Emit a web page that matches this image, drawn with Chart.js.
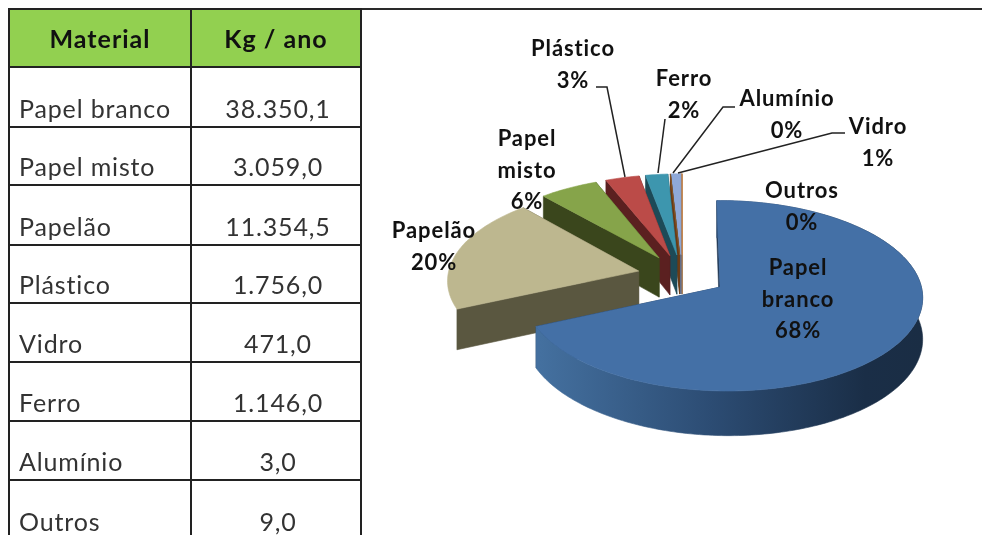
<!DOCTYPE html>
<html>
<head>
<meta charset="utf-8">
<script src="https://cdn.jsdelivr.net/npm/chart.js@4"></script>
<style>
html, body { margin: 0; padding: 0; background: #fff; overflow: hidden; width: 982px; height: 535px; }
#page { position: relative; width: 982px; height: 535px; overflow: hidden; filter: blur(0.6px); }
#chart { position: absolute; left: 0; top: 0; }
#topline { position: absolute; left: 9px; right: 0; top: 8px; height: 2px; background: #2a2a2a; }
#grid {
    position: absolute; left: 8px; top: 8px;
    display: grid;
    grid-template-columns: 182px 170px;
    grid-template-rows: 58px 60px 58px 60px 58px 59px 59px 59px 60px;
    border-left: 2px solid #222; border-top: 2px solid #222;
    font-family: Lato, sans-serif; font-size: 25px; letter-spacing: 0.85px; color: #333;
}
#grid div {
    box-sizing: border-box;
    border-right: 2px solid #222; border-bottom: 2px solid #222;
    display: flex; align-items: flex-end; padding-bottom: 3px;
    white-space: nowrap;
}
#grid .name { padding-left: 9px; }
#grid .val { justify-content: center; padding-left: 4px; }
#grid .head { background: #92d050; color: #111; font-weight: bold; letter-spacing: 1px; justify-content: center; align-items: center; padding-bottom: 0; }
</style>
</head>
<body>
<div id="page">
    <canvas id="chart" width="982" height="535"></canvas>
    <div id="topline"></div>
    <div id="grid"></div>
</div>
<script>
// table, in the order of the picture
const tableHeader = ['Material', 'Kg / ano'];
const tableMaterials = ['Papel branco', 'Papel misto', 'Papelão', 'Plástico', 'Vidro', 'Ferro', 'Alumínio', 'Outros'];
const tableKg = ['38.350,1', '3.059,0', '11.354,5', '1.756,0', '471,0', '1.146,0', '3,0', '9,0'];

// pie, clockwise from 12 o'clock
const pieNames = ['Papel branco', 'Papelão', 'Papel misto', 'Plástico', 'Ferro', 'Alumínio', 'Vidro', 'Outros'];
const pieKg = [38350.1, 11354.5, 3059.0, 1756.0, 1146.0, 3.0, 471.0, 9.0];
const piePct = [68, 20, 6, 3, 2, 0, 1, 0];

const topColors = ['#4470a6', '#bdb78f', '#86a44a', '#bb4b48', '#3d96ae', '#8a5a2a', '#8fa9d8', '#e08a3c'];
const sideColors = ['#1f3552', '#5a5740', '#3a461c', '#5b2020', '#1d4a57', '#6b3a14', '#5d74a0', '#8a5420'];

// label lines and where they sit
const labelLines = [
    ['Papel', 'branco'], ['Papelão'], ['Papel', 'misto'], ['Plástico'],
    ['Ferro'], ['Alumínio'], ['Vidro'], ['Outros']
];
const labelAt = [[798, 268], [434, 231], [527, 139], [573, 49], [684, 79], [787, 99], [878, 127], [802, 191]];
const lineGap = 31.5;
const leaders = [
    [[596, 87], [607, 87], [625, 177]],
    [[665, 119], [658, 173]],
    [[735, 107], [723, 107], [673, 173]],
    [[845, 133], [832, 133], [678, 173]]
];

// perspective of the pie
const CX = 682, CY = 275.5, AX = 195, AY = 92, PERSP = 0.09, PERSP_X = 0.015, DEPTH = 40, EXPLODE = 0.229;

function project(x, y, h) {
    const w = 1 - PERSP * y - PERSP_X * x;
    return [CX + AX * x / w, CY + AY * y / w + h * DEPTH / w];
}

function fillPoly(ctx, pts, color) {
    ctx.beginPath();
    pts.forEach((p, i) => i ? ctx.lineTo(p[0], p[1]) : ctx.moveTo(p[0], p[1]));
    ctx.closePath();
    ctx.fillStyle = color;
    ctx.fill();
    ctx.strokeStyle = color;
    ctx.lineWidth = 0.6;
    ctx.stroke();
}

const pie3d = {
    id: 'pie3d',
    beforeDatasetsDraw(chart) {
        const ctx = chart.ctx;
        const arcs = chart.getDatasetMeta(0).data;
        // far slices first, the big blue one last
        const order = [7, 6, 5, 4, 3, 2, 1, 0];

        order.forEach(i => {
            const arc = arcs[i];
            const mid = (arc.startAngle + arc.endAngle) / 2;
            const ex = EXPLODE * Math.cos(mid), ey = EXPLODE * Math.sin(mid);
            const rim = [];
            const steps = Math.max(2, Math.ceil((arc.endAngle - arc.startAngle) / 0.02));
            for (let s = 0; s <= steps; s++) {
                const a = arc.startAngle + (arc.endAngle - arc.startAngle) * s / steps;
                rim.push([ex + Math.cos(a), ey + Math.sin(a)]);
            }
            const top = rim.map(p => project(p[0], p[1], 0));
            const bottom = rim.map(p => project(p[0], p[1], 1));
            const apexTop = project(ex, ey, 0), apexBottom = project(ex, ey, 1);

            fillPoly(ctx, [apexTop, top[steps], bottom[steps], apexBottom], sideColors[i]);
            fillPoly(ctx, [apexTop, top[0], bottom[0], apexBottom], sideColors[i]);

            // only the big slice shows its rounded wall
            if (i === 0) {
                const side = ctx.createLinearGradient(540, 0, 922, 0);
                side.addColorStop(0, '#44709f');
                side.addColorStop(0.45, '#2c4c73');
                side.addColorStop(0.85, '#1a2e47');
                side.addColorStop(1, '#1a2d44');
                fillPoly(ctx, top.concat(bottom.slice().reverse()), side);
            }
            fillPoly(ctx, [apexTop].concat(top), topColors[i]);
        });

        drawLabels(ctx);
        return false; // slices are drawn above, from the arcs' angles
    }
};

function drawLabels(ctx) {
    ctx.strokeStyle = '#222';
    ctx.lineWidth = 1.5;
    leaders.forEach(pts => {
        ctx.beginPath();
        pts.forEach((p, i) => i ? ctx.lineTo(p[0], p[1]) : ctx.moveTo(p[0], p[1]));
        ctx.stroke();
    });

    ctx.font = 'bold 22px Lato, sans-serif';
    ctx.letterSpacing = '0.9px';
    ctx.fillStyle = '#111';
    ctx.textAlign = 'center';
    ctx.textBaseline = 'middle';
    labelLines.forEach((lines, i) => {
        const x = labelAt[i][0];
        let y = labelAt[i][1];
        lines.forEach(t => {
            ctx.fillText(t, x, y);
            y += lineGap;
        });
        ctx.fillText(piePct[i] + '%', x, y);
    });
}

new Chart(document.getElementById('chart'), {
    type: 'pie',
    data: {
        labels: pieNames,
        datasets: [{ data: pieKg, backgroundColor: topColors, borderWidth: 0 }]
    },
    options: {
        responsive: false,
        animation: false,
        plugins: { legend: { display: false }, tooltip: { enabled: false } }
    },
    plugins: [pie3d]
});

const grid = document.getElementById('grid');
function addCell(text, cls) {
    const d = document.createElement('div');
    d.className = cls;
    d.textContent = text;
    grid.append(d);
}
addCell(tableHeader[0], 'head');
addCell(tableHeader[1], 'head');
tableMaterials.forEach((m, i) => {
    addCell(m, 'name');
    addCell(tableKg[i], 'val');
});
</script>
</body>
</html>
